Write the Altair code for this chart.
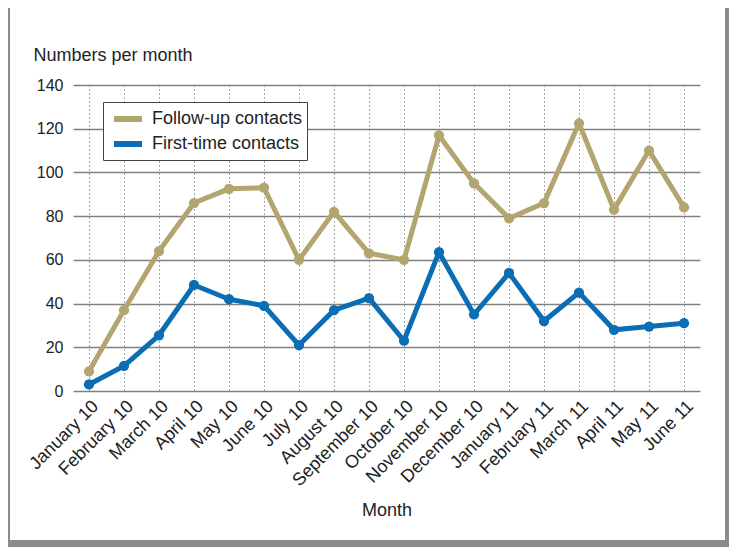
import altair as alt
import pandas as pd

months = ["January 10", "February 10", "March 10", "April 10", "May 10", "June 10",
          "July 10", "August 10", "September 10", "October 10", "November 10",
          "December 10", "January 11", "February 11", "March 11", "April 11",
          "May 11", "June 11"]
follow_up = [9, 37, 64, 86, 92.5, 93, 60, 82, 63, 60, 117, 95, 79, 86, 122.5, 83, 110, 84]
first_time = [3, 11.5, 25.5, 48.5, 42, 39, 21, 37, 42.5, 23, 63.5, 35, 54, 32, 45, 28, 29.5, 31]
series = ["Follow-up contacts", "First-time contacts"]
colors = ["#b3a56f", "#0b6db4"]

rows = []
for i, (name, vals) in enumerate(zip(series, [follow_up, first_time])):
    for j, (m, v) in enumerate(zip(months, vals)):
        rows.append({"Month": m, "Value": v, "Series": name, "idx": j})
df = pd.DataFrame(rows)

FONT = "Liberation Sans"
FRAME = "#8c8c8c"

one = alt.Data(values=[{}])
frame_left = alt.Chart(one).mark_rect(color=FRAME).encode(
    x=alt.value(-66), x2=alt.value(-63), y=alt.value(-90), y2=alt.value(470))
frame_right = alt.Chart(one).mark_rect(color=FRAME).encode(
    x=alt.value(652), x2=alt.value(670), y=alt.value(-90), y2=alt.value(470))
frame_bottom = alt.Chart(one).mark_rect(color=FRAME).encode(
    x=alt.value(-66), x2=alt.value(670), y=alt.value(455), y2=alt.value(470))

lines = alt.Chart(df).mark_line(
    strokeWidth=5,
    point=alt.OverlayMarkDef(size=105, filled=True, opacity=1),
).encode(
    x=alt.X("Month:N", sort=months,
            scale=alt.Scale(type="point", padding=0.457),
            axis=alt.Axis(title="Month", labelAngle=315, labelAlign="right",
                          labelBaseline="top", labelFontSize=18, labelPadding=6,
                          ticks=False, domain=False, grid=True,
                          gridColor="#555555", gridDash=[1, 3], gridWidth=1,
                          titleFontSize=18, titleFontWeight="normal",
                          titleY=124, titleBaseline="alphabetic",
                          labelColor="#222222", titleColor="#222222")),
    y=alt.Y("Value:Q", scale=alt.Scale(domain=[0, 140]),
            axis=alt.Axis(title="Numbers per month", values=list(range(0, 141, 20)),
                          titleAngle=0, titleAlign="left", titleX=-40, titleY=-25,
                          titleBaseline="alphabetic", titleFontSize=18,
                          titleFontWeight="normal", labelFontSize=16, labelPadding=10,
                          ticks=False, domain=False, grid=True, gridColor="#808080",
                          gridWidth=1.5, labelColor="#222222", titleColor="#222222")),
    color=alt.Color("Series:N", sort=series,
                    scale=alt.Scale(domain=series, range=colors),
                    legend=alt.Legend(title=None, orient="none", legendX=30, legendY=17,
                                      symbolType="M-1.4,0H1.4", symbolStrokeWidth=6,
                                      symbolSize=400, symbolOffset=8, labelFontSize=18,
                                      fillColor="white", strokeColor="#444444",
                                      padding=4, rowPadding=-1, labelOffset=11,
                                      labelColor="#222222")),
    order=alt.Order("idx:Q"),
)

chart = alt.layer(frame_left, frame_right, frame_bottom, lines).properties(
    width=627, height=306,
    autosize=alt.AutoSizeParams(type="none"),
    padding={"left": 65, "top": 77, "right": 29, "bottom": 156},
    background="white",
).configure(
    font=FONT,
).configure_view(stroke=None)

chart.save("out.html", embed_options={"renderer": "svg", "actions": False})
